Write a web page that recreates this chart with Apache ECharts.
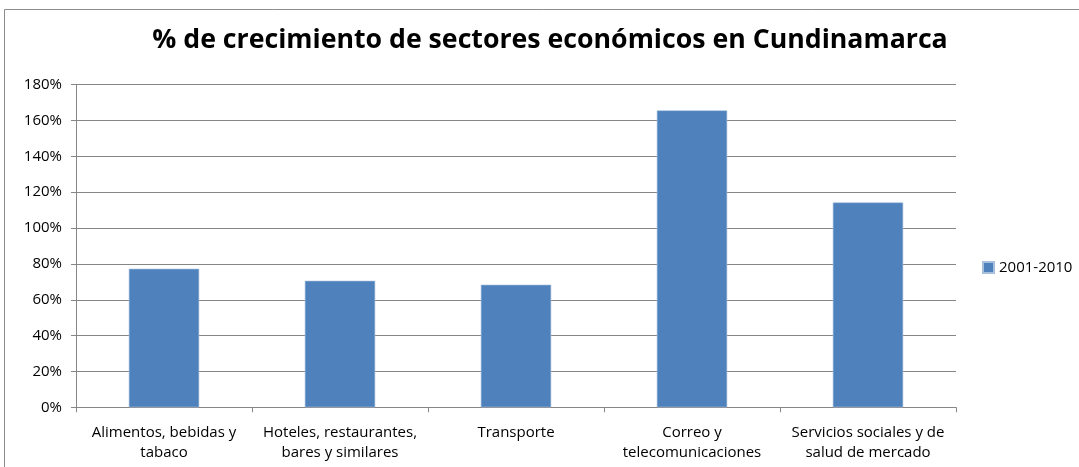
<!DOCTYPE html>
<html>
<head>
<meta charset="utf-8">
<script src="https://cdn.jsdelivr.net/npm/echarts@6/dist/echarts.min.js"></script>
<style>
  html, body { margin: 0; padding: 0; background: #fff; }
  #chart { width: 1079px; height: 467px; }
</style>
</head>
<body>
<div id="chart"></div>
<script>
// Sector names (line breaks as they wrap under the axis)
const categories = [
  'Alimentos, bebidas y\ntabaco',
  'Hoteles, restaurantes,\nbares y similares',
  'Transporte',
  'Correo y\ntelecomunicaciones',
  'Servicios sociales y de\nsalud de mercado'
];
// Growth 2001-2010, in percent
const growth = [77.3, 70.6, 68.4, 165.7, 114.3];
const seriesName = '2001-2010';
const yTicks = { min: 0, max: 180, interval: 20 };

const font = '"Open Sans", Lato, sans-serif';
const chart = echarts.init(document.getElementById('chart'), null, { renderer: 'canvas' });

chart.setOption({
  animation: false,
  backgroundColor: '#ffffff',
  title: {
    text: '% de crecimiento de sectores económicos en Cundinamarca',
    left: 550,
    textAlign: 'center',
    top: 27,
    padding: 0,
    textStyle: { fontFamily: font, fontWeight: 'bold', fontSize: 26.7, color: '#000' }
  },
  graphic: [{
    type: 'rect',
    shape: { x: 4.5, y: 9.5, width: 1100, height: 500 },
    style: { fill: 'none', stroke: '#8c8c8c', lineWidth: 1 },
    silent: true
  }],
  legend: {
    data: [seriesName],
    left: 982,
    top: 260,
    padding: 0,
    itemWidth: 11,
    itemHeight: 11,
    itemGap: 4,
    textStyle: { fontFamily: font, fontSize: 15, color: '#000', padding: [0, 0, 0, 0] },
    icon: 'rect'
  },
  grid: { left: 76, right: 123, top: 84.7, bottom: 59.7, containLabel: false },
  xAxis: {
    type: 'category',
    data: categories,
    axisLine: { lineStyle: { color: '#868686', width: 1 } },
    axisTick: { show: true, alignWithLabel: false, length: 5, lineStyle: { color: '#868686' } },
    axisLabel: {
      fontFamily: font, fontSize: 15, color: '#000', lineHeight: 20, margin: 15, interval: 0
    },
    splitLine: { show: false }
  },
  yAxis: {
    type: 'value',
    min: yTicks.min, max: yTicks.max, interval: yTicks.interval,
    axisLine: { show: true, lineStyle: { color: '#868686', width: 1 } },
    axisTick: { show: true, length: 5, lineStyle: { color: '#868686' } },
    axisLabel: { fontFamily: font, fontSize: 15, color: '#000', margin: 14, formatter: '{value}%' },
    splitLine: { show: true, lineStyle: { color: '#868686', width: 1 } }
  },
  series: [{
    name: seriesName,
    type: 'bar',
    data: growth,
    barCategoryGap: '60%',
    itemStyle: { color: '#4f81bd', borderColor: '#a7bfdc', borderWidth: 0.6 }
  }]
});
</script>
</body>
</html>
